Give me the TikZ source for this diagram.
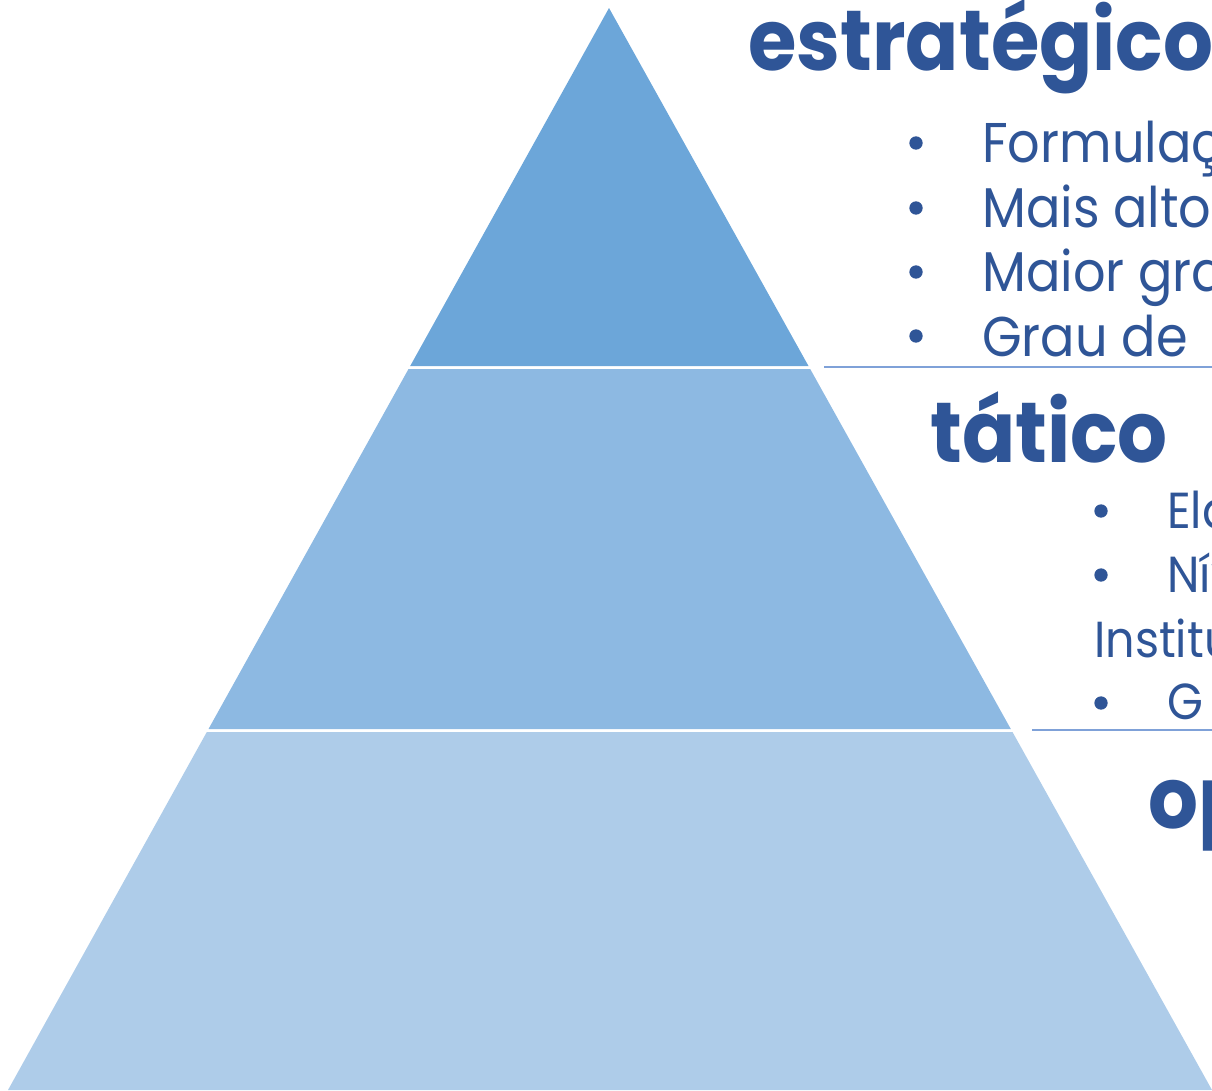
\documentclass[tikz,border=0pt]{standalone}
\usepackage{fontspec}
\setmainfont{Poppins}
\newfontfamily\headfont[FakeStretch=0.92]{Poppins Bold}
\newfontfamily\itemfont[FakeStretch=0.91]{Poppins}
\definecolor{bandA}{HTML}{6CA6D9}
\definecolor{bandB}{HTML}{8DB9E2}
\definecolor{bandC}{HTML}{AECCE9}
\definecolor{ink}{HTML}{2F5597}
\definecolor{rule}{HTML}{7FA1D8}
\tikzset{
  head/.style={anchor=base west, inner sep=0pt, text=ink, font=\headfont\fontsize{#1}{#1}\selectfont},
  item/.style={anchor=base west, inner sep=0pt, text=ink, font=\itemfont\fontsize{#1}{#1}\selectfont},
  dot/.style={circle, fill=ink, inner sep=0pt, minimum size=10pt},
  sep/.style={draw=rule, line width=1.5pt}
}
\begin{document}
\begin{tikzpicture}[x=0.75pt,y=-0.75pt]
\useasboundingbox (0,0) rectangle (1212,1090);
\clip (0,0) rectangle (1212,1090);
% pyramid bands
\fill[bandA] (609,8) -- (808.5,366) -- (410.2,366) -- cycle;
\fill[bandB] (408.5,369) -- (810.2,369) -- (1010.8,729) -- (208.5,729) -- cycle;
\fill[bandC] (206.8,732) -- (1012.5,732) -- (1212,1090) -- (8,1090) -- cycle;
% estrategico
\node[head=64pt] (h1) at (748,70) {estratégico};
\node[dot] (d11) at (916,143) {};
\node[dot] (d12) at (916,208) {};
\node[dot] (d13) at (916,272) {};
\node[dot] (d14) at (916,336) {};
\node[item=42pt] (t11) at (982,162) {Formulação};
\node[item=42pt] (t12) at (982,227) {Mais alto nível};
\node[item=42pt] (t13) at (982,291) {Maior grau};
\node[item=42pt] (t14) at (982,356) {Grau de};
\coordinate (s1a) at (824,367);
\coordinate (s1b) at (1212,367);
\draw[sep] (s1a) -- (s1b);
% tatico
\node[head=64pt] (h2) at (930,462) {tático};
\node[dot] (d21) at (1101,511) {};
\node[dot] (d22) at (1101,575) {};
\node[dot] (d23) at (1101,703) {};
\node[item=38pt] (t21) at (1167,528) {Elaboração};
\node[item=38pt] (t22) at (1167,592) {Nível};
\node[item=38pt] (t23) at (1094,657) {Institucional};
\node[item=38pt] (t24) at (1167,719) {G};
\coordinate (s2a) at (1032,730);
\coordinate (s2b) at (1212,730);
\draw[sep] (s2a) -- (s2b);
% operacional
\node[head=64pt] (h3) at (1148,828) {operacional};
\end{tikzpicture}
\end{document}
